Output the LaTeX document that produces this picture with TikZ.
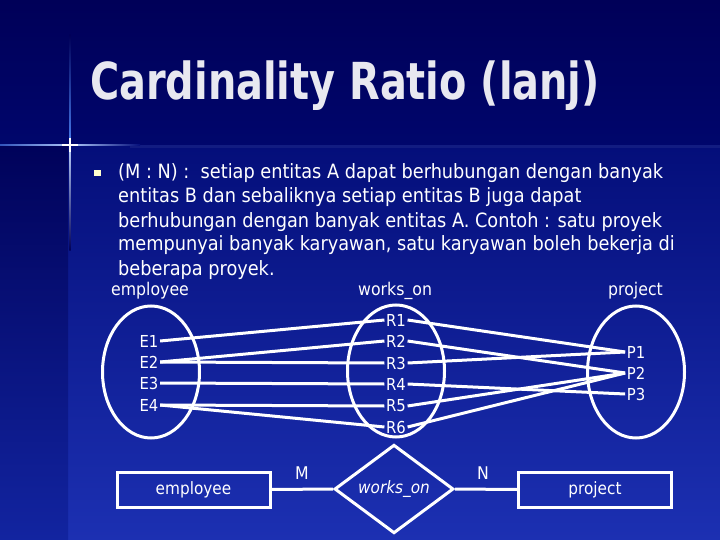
\documentclass[tikz,border=0pt]{standalone}
\usepackage{fontspec}
\setmainfont{DejaVu Sans Condensed}
\usetikzlibrary{shapes.geometric}
\definecolor{bgtop}{RGB}{0,0,88}
\definecolor{bgbar}{RGB}{0,6,108}
\definecolor{bodytop}{RGB}{4,14,122}
\definecolor{bodybot}{RGB}{28,48,178}
\definecolor{striptop}{RGB}{0,2,90}
\definecolor{stripbot}{RGB}{18,36,160}
\definecolor{titlecol}{RGB}{232,232,240}
\definecolor{bulletcol}{RGB}{255,255,205}
\definecolor{glow}{RGB}{70,120,230}
\tikzset{
  body/.style={anchor=base west, text=white, inner sep=0pt, font=\fontsize{19.7}{24}\selectfont},
  lbl/.style={text=white, inner sep=1pt, font=\fontsize{17.5}{20}\selectfont},
  elem/.style={text=white, inner sep=1.5pt, font=\fontsize{16.5}{20}\selectfont},
  setell/.style={ellipse, draw=white, line width=3pt, minimum width=97pt, minimum height=132pt, inner sep=0pt},
  link/.style={draw=white, line width=3pt},
  entity/.style={draw=white, line width=3pt, text=white, minimum width=153pt, minimum height=35pt, inner sep=0pt, font=\fontsize{17}{20}\selectfont},
  rel/.style={diamond, draw=white, line width=3pt, text=white, minimum width=119pt, minimum height=80pt, inner sep=0pt, font=\fontsize{17}{20}\selectfont\itshape},
}
\begin{document}
\begin{tikzpicture}[x=1pt,y=-1pt]
\useasboundingbox (0,0) rectangle (720,540);
% background
\shade[top color=bgtop, bottom color=bgbar] (0,0) rectangle (720,146);
\shade[top color=bodytop, bottom color=bodybot] (68,146) rectangle (720,540);
\shade[top color=striptop, bottom color=stripbot] (0,146) rectangle (68,540);
\fill[white, opacity=0.06] (130,145) rectangle (720,148);
% glow cross
\shade[top color=bgtop, bottom color=glow] (69.3,35) rectangle (70.7,140);
\shade[top color=glow!40!white, bottom color=bgtop] (69.3,150) rectangle (70.7,250);
\shade[left color=glow!70!bgtop, right color=glow!50!white] (0,144.3) rectangle (64,145.7);
\shade[left color=glow!50!white, right color=bodytop] (76,144.3) rectangle (140,145.7);
\fill[white] (69.2,138) rectangle (70.8,152);
\fill[white] (62,144.2) rectangle (78,145.8);
% title
\node[anchor=base west, inner sep=0pt, text=titlecol, font=\fontsize{51}{60}\selectfont\bfseries] (title) at (90,100) {\scalebox{0.868}[1]{Cardinality Ratio (lanj)}};
% bullet text
\fill[bulletcol] (94,170) rectangle (100.5,176.5);
\node[body] (t1) at (118,179) {(M : N) :\ \ setiap entitas A dapat berhubungan dengan banyak};
\node[body] (t2) at (118,203) {entitas B dan sebaliknya setiap entitas B juga dapat};
\node[body] (t3) at (118,227) {berhubungan dengan banyak entitas A. Contoh : satu proyek};
\node[body] (t4) at (118,251) {mempunyai banyak karyawan, satu karyawan boleh bekerja di};
\node[body] (t5) at (118,275) {beberapa proyek.};
% set labels
\node[lbl, anchor=base west] (lemp) at (110,295) {employee};
\node[lbl, anchor=base west] (lwo) at (357,295) {works\_on};
\node[lbl, anchor=base west] (lpr) at (607,295) {project};
% ellipses
\node[setell] (setE) at (151,372) {};
\node[setell] (setR) at (396,371) {};
\node[setell] (setP) at (636,372) {};
% elements
\node[elem] (e1) at (149,341) {E1};
\node[elem] (e2) at (149,362) {E2};
\node[elem] (e3) at (149,383) {E3};
\node[elem] (e4) at (149,405) {E4};
\node[elem] (r1) at (396,320) {R1};
\node[elem] (r2) at (396,341) {R2};
\node[elem] (r3) at (396,363) {R3};
\node[elem] (r4) at (396,384) {R4};
\node[elem] (r5) at (396,406) {R5};
\node[elem] (r6) at (396,427) {R6};
\node[elem] (p1) at (636,352) {P1};
\node[elem] (p2) at (636,373) {P2};
\node[elem] (p3) at (636,394) {P3};
% links
\draw[link] (e1.east) -- (r1.west);
\draw[link] (e2.east) -- (r2.west);
\draw[link] (e2.east) -- (r3.west);
\draw[link] (e3.east) -- (r4.west);
\draw[link] (e4.east) -- (r5.west);
\draw[link] (e4.east) -- (r6.west);
\draw[link] (r1.east) -- (p1.west);
\draw[link] (r2.east) -- (p2.west);
\draw[link] (r3.east) -- (p1.west);
\draw[link] (r4.east) -- (p3.west);
\draw[link] (r5.east) -- (p2.west);
\draw[link] (r6.east) -- (p2.west);
% ER diagram
\node[entity] (emp) at (193.5,489.5) {employee};
\node[rel] (wo) at (394,489) {works\_on};
\node[entity] (proj) at (595,489.5) {project};
\draw[link] (emp.east) -- (wo.west);
\draw[link] (wo.east) -- (proj.west);
\node[lbl] (m) at (302,473) {M};
\node[lbl] (n) at (483,473) {N};
\end{tikzpicture}
\end{document}
